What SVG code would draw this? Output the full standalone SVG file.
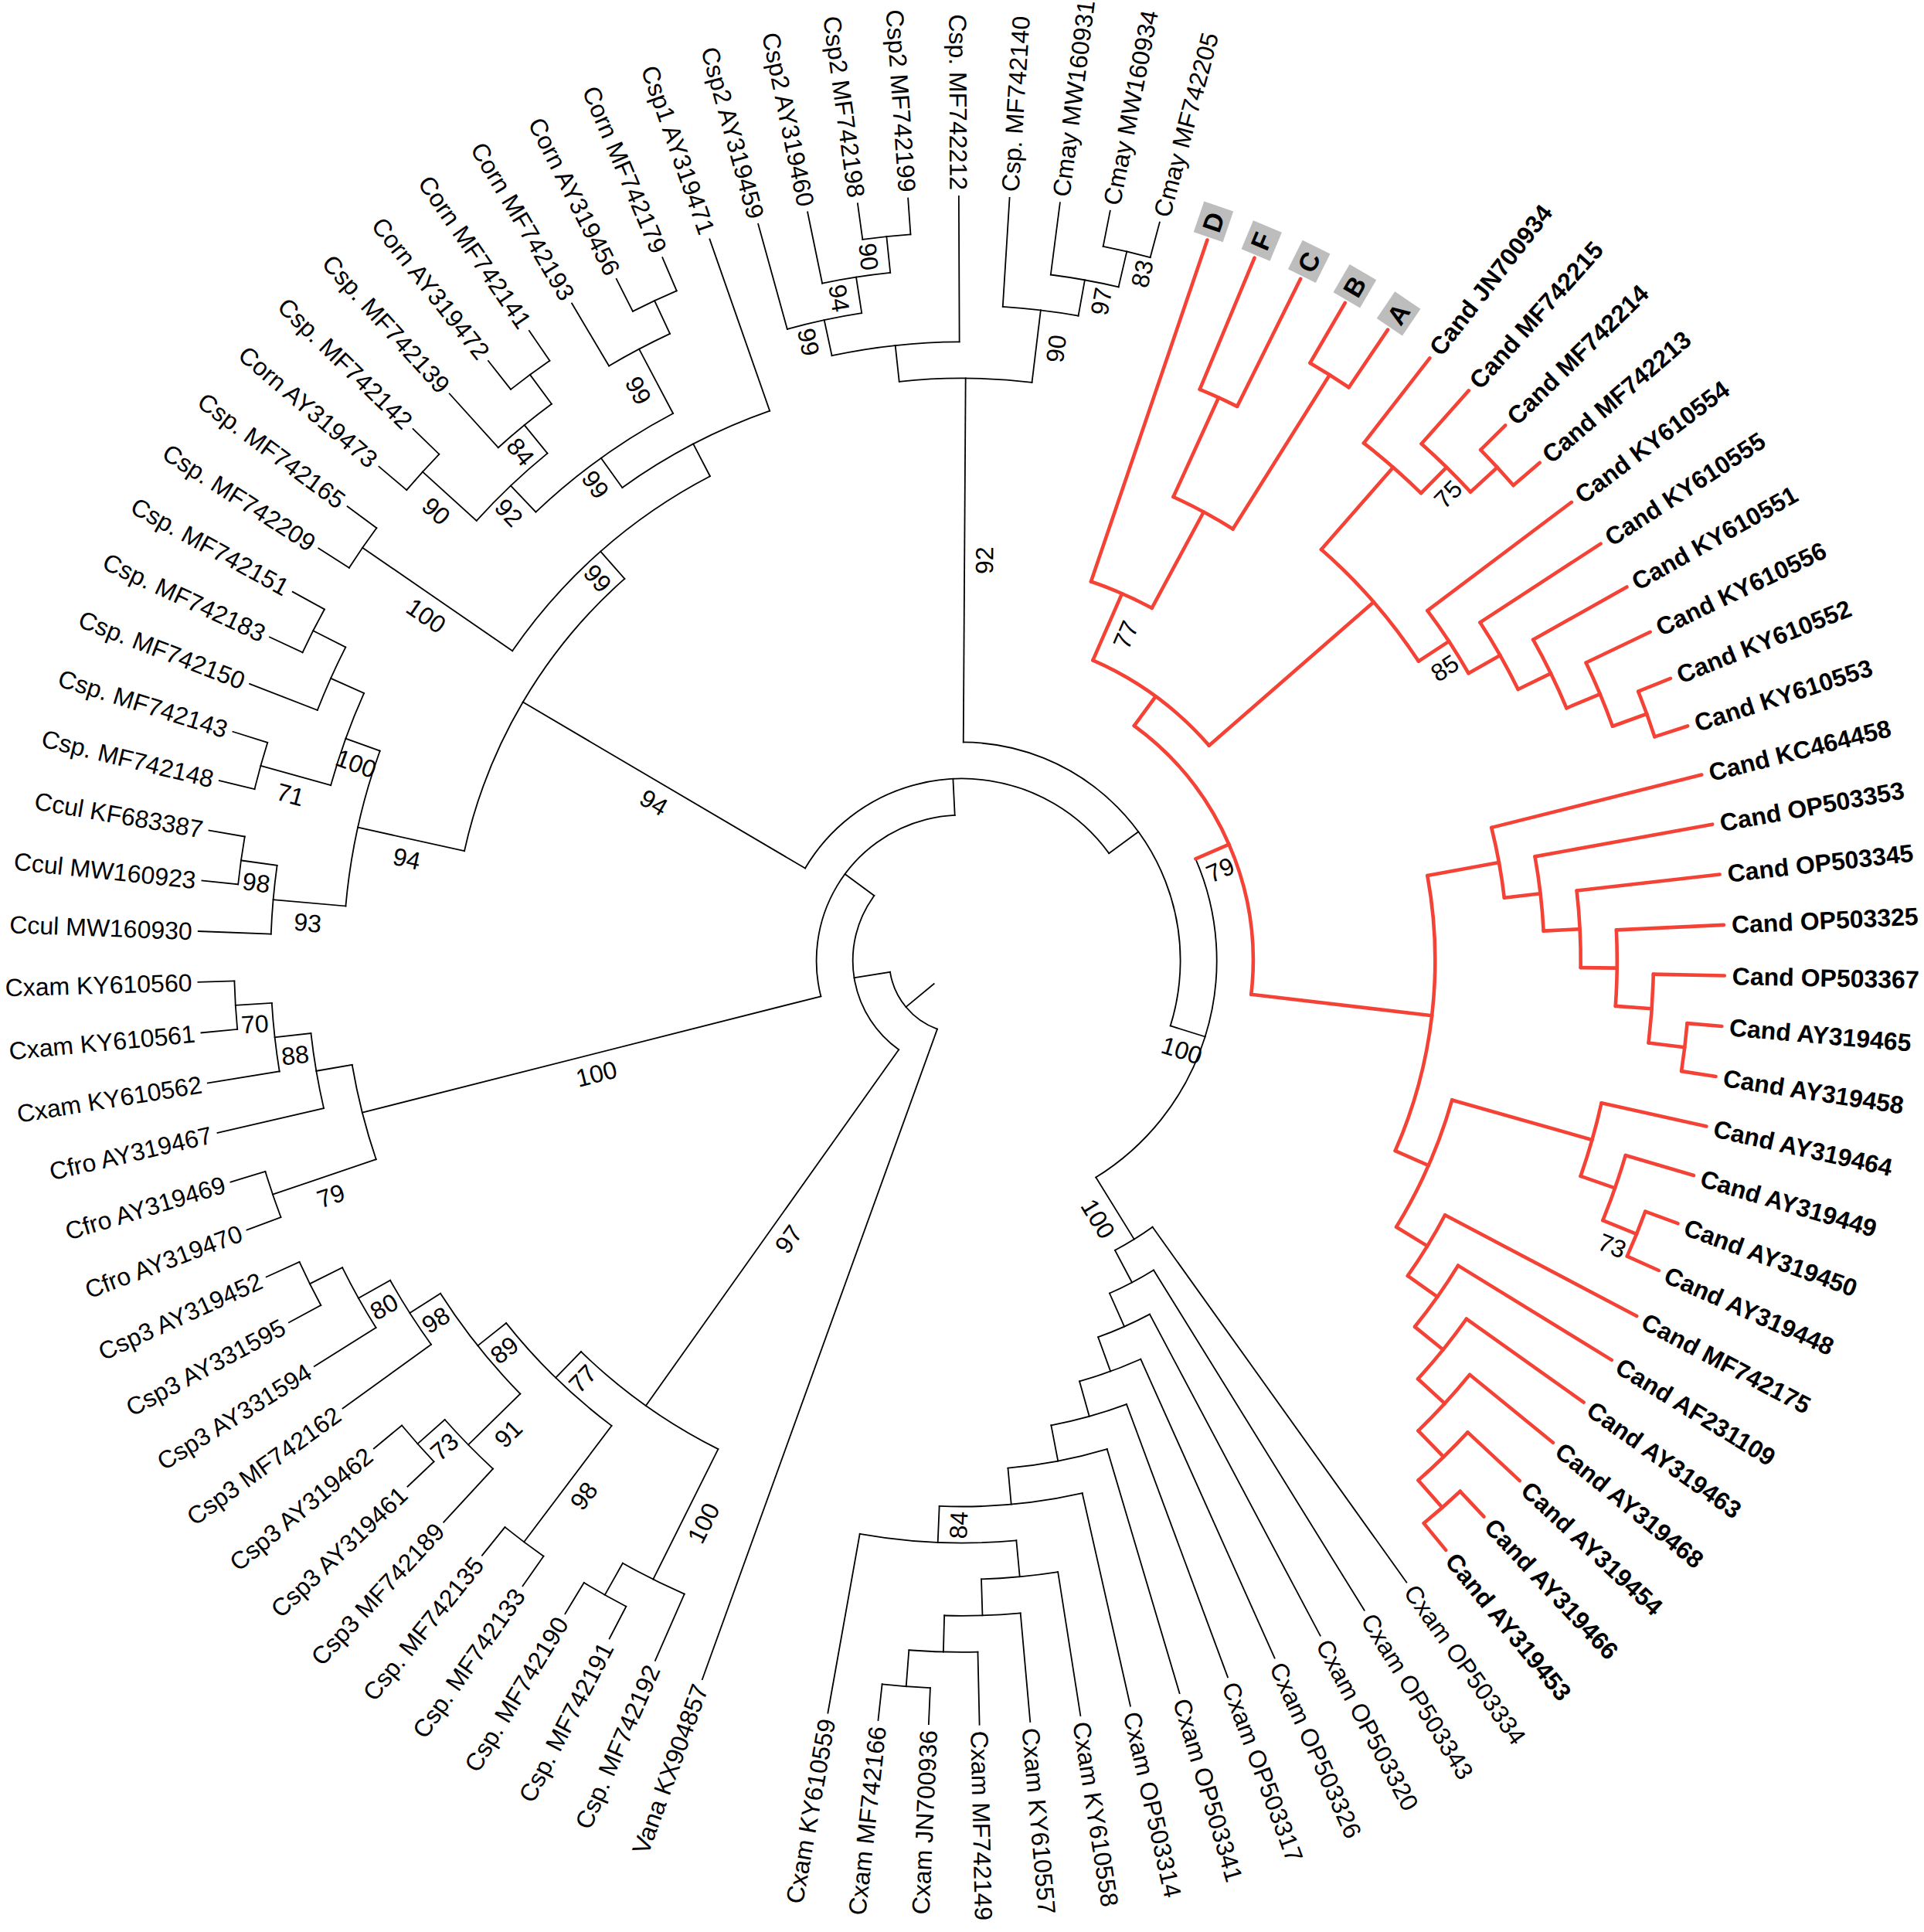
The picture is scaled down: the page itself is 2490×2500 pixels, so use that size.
<svg xmlns="http://www.w3.org/2000/svg" width="2490" height="2500" viewBox="0 0 2490 2500">
<style>
.k{fill:none;stroke:#000;stroke-width:1.8;stroke-linecap:square}
.r{fill:none;stroke:#F44336;stroke-width:4.6;stroke-linecap:round;stroke-linejoin:round}
text{font-family:"Liberation Sans",Arial,sans-serif;font-size:32px;fill:#000}
.e{text-anchor:end}
.m{text-anchor:middle}
.bd{font-weight:bold}
.lt{font-weight:bold;font-size:34px}
.gb{fill:#BDBDBD}
</style>
<rect width="2490" height="2500" fill="#fff"/>
<g transform="translate(1245,1243)">
<g id="connectors">
<!-- black arcs -->
<circle class="k" r="942" pathLength="360" stroke-dasharray="3.81 400" transform="rotate(-78.82)"/>
<circle class="k" r="894.9" pathLength="360" stroke-dasharray="5.715 400" transform="rotate(-82.63)"/>
<circle class="k" r="847.8" pathLength="360" stroke-dasharray="6.66 400" transform="rotate(-86.43)"/>
<circle class="k" r="942" pathLength="360" stroke-dasharray="3.8 400" transform="rotate(-97.85)"/>
<circle class="k" r="894.9" pathLength="360" stroke-dasharray="5.71 400" transform="rotate(-101.66)"/>
<circle class="k" r="847.8" pathLength="360" stroke-dasharray="6.665 400" transform="rotate(-105.47)"/>
<circle class="k" r="800.7" pathLength="360" stroke-dasharray="11.9 400" transform="rotate(-102.14)"/>
<circle class="k" r="753.6" pathLength="360" stroke-dasharray="13.09 400" transform="rotate(-96.19)"/>
<circle class="k" r="942" pathLength="360" stroke-dasharray="3.81 400" transform="rotate(-154.96)"/>
<circle class="k" r="894.9" pathLength="360" stroke-dasharray="5.715 400" transform="rotate(-158.77)"/>
<circle class="k" r="942" pathLength="360" stroke-dasharray="3.81 400" transform="rotate(-166.38)"/>
<circle class="k" r="847.8" pathLength="360" stroke-dasharray="8.565 400" transform="rotate(-164.475)"/>
<circle class="k" r="942" pathLength="360" stroke-dasharray="3.8 400" transform="rotate(-173.99)"/>
<circle class="k" r="894.9" pathLength="360" stroke-dasharray="5.71 400" transform="rotate(-177.8)"/>
<circle class="k" r="800.7" pathLength="360" stroke-dasharray="14.755 400" transform="rotate(-174.945)"/>
<circle class="k" r="942" pathLength="360" stroke-dasharray="3.81 400" transform="rotate(-147.35)"/>
<circle class="k" r="942" pathLength="360" stroke-dasharray="3.81 400" transform="rotate(-139.73)"/>
<circle class="k" r="942" pathLength="360" stroke-dasharray="3.81 400" transform="rotate(-128.31)"/>
<circle class="k" r="894.9" pathLength="360" stroke-dasharray="5.715 400" transform="rotate(-132.12)"/>
<circle class="k" r="847.8" pathLength="360" stroke-dasharray="8.565 400" transform="rotate(-137.825)"/>
<circle class="k" r="942" pathLength="360" stroke-dasharray="3.81 400" transform="rotate(-116.89)"/>
<circle class="k" r="894.9" pathLength="360" stroke-dasharray="5.715 400" transform="rotate(-120.7)"/>
<circle class="k" r="800.7" pathLength="360" stroke-dasharray="15.7 400" transform="rotate(-133.54)"/>
<circle class="k" r="753.6" pathLength="360" stroke-dasharray="16.41 400" transform="rotate(-125.69)"/>
<circle class="k" r="706.5" pathLength="360" stroke-dasharray="27.96 400" transform="rotate(-145.445)"/>
<circle class="k" r="659.4" pathLength="360" stroke-dasharray="36.105 400" transform="rotate(-167.57)"/>
<circle class="k" r="942" pathLength="360" stroke-dasharray="3.81 400" transform="rotate(-185.42)"/>
<circle class="k" r="894.9" pathLength="360" stroke-dasharray="5.705 400" transform="rotate(-189.22)"/>
<circle class="k" r="847.8" pathLength="360" stroke-dasharray="6.66 400" transform="rotate(-193.03)"/>
<circle class="k" r="942" pathLength="360" stroke-dasharray="3.8 400" transform="rotate(-200.64)"/>
<circle class="k" r="800.7" pathLength="360" stroke-dasharray="9.04 400" transform="rotate(-198.74)"/>
<circle class="k" r="942" pathLength="360" stroke-dasharray="3.81 400" transform="rotate(-208.26)"/>
<circle class="k" r="894.9" pathLength="360" stroke-dasharray="5.705 400" transform="rotate(-212.06)"/>
<circle class="k" r="847.8" pathLength="360" stroke-dasharray="6.66 400" transform="rotate(-215.87)"/>
<circle class="k" r="942" pathLength="360" stroke-dasharray="3.81 400" transform="rotate(-223.49)"/>
<circle class="k" r="894.9" pathLength="360" stroke-dasharray="5.705 400" transform="rotate(-227.29)"/>
<circle class="k" r="800.7" pathLength="360" stroke-dasharray="11.9 400" transform="rotate(-224.44)"/>
<circle class="k" r="942" pathLength="360" stroke-dasharray="3.81 400" transform="rotate(-234.91)"/>
<circle class="k" r="753.6" pathLength="360" stroke-dasharray="14.515 400" transform="rotate(-233.005)"/>
<circle class="k" r="942" pathLength="360" stroke-dasharray="3.81 400" transform="rotate(-242.52)"/>
<circle class="k" r="894.9" pathLength="360" stroke-dasharray="5.715 400" transform="rotate(-246.33)"/>
<circle class="k" r="706.5" pathLength="360" stroke-dasharray="17.72 400" transform="rotate(-243.47)"/>
<circle class="k" r="141.3" pathLength="360" stroke-dasharray="91.09 400" transform="rotate(-234.61)"/>
<circle class="k" r="188.4" pathLength="360" stroke-dasharray="101.395 400" transform="rotate(-194.22)"/>
<circle class="k" r="235.5" pathLength="360" stroke-dasharray="113.39 400" transform="rotate(-149.52)"/>
<circle class="k" r="282.6" pathLength="360" stroke-dasharray="107.025 400" transform="rotate(-89.645)"/>
<circle class="k" r="329.7" pathLength="360" stroke-dasharray="81.825 400" transform="rotate(-23.535)"/>
<circle class="k" r="94.2" pathLength="360" stroke-dasharray="61.065 400" transform="rotate(-250.13)"/>
<circle class="k" r="942" pathLength="360" stroke-dasharray="3.8 400" transform="rotate(92.5)"/>
<circle class="k" r="894.9" pathLength="360" stroke-dasharray="5.71 400" transform="rotate(88.69)"/>
<circle class="k" r="847.8" pathLength="360" stroke-dasharray="6.665 400" transform="rotate(84.88)"/>
<circle class="k" r="800.7" pathLength="360" stroke-dasharray="7.13 400" transform="rotate(81.08)"/>
<circle class="k" r="753.6" pathLength="360" stroke-dasharray="15.465 400" transform="rotate(84.645)"/>
<circle class="k" r="706.5" pathLength="360" stroke-dasharray="15.11 400" transform="rotate(77.27)"/>
<circle class="k" r="659.4" pathLength="360" stroke-dasharray="11.365 400" transform="rotate(73.46)"/>
<circle class="k" r="612.3" pathLength="360" stroke-dasharray="9.49 400" transform="rotate(69.65)"/>
<circle class="k" r="565.2" pathLength="360" stroke-dasharray="8.545 400" transform="rotate(65.85)"/>
<circle class="k" r="518.1" pathLength="360" stroke-dasharray="8.08 400" transform="rotate(62.04)"/>
<circle class="k" r="471" pathLength="360" stroke-dasharray="7.85 400" transform="rotate(58.23)"/>
<circle class="k" r="423.9" pathLength="360" stroke-dasharray="7.725 400" transform="rotate(54.43)"/>
<!-- red arcs -->
<circle class="r" r="942" pathLength="360" stroke-dasharray="3.81 400" transform="rotate(-44.56)"/>
<circle class="r" r="894.9" pathLength="360" stroke-dasharray="5.705 400" transform="rotate(-48.36)"/>
<circle class="r" r="847.8" pathLength="360" stroke-dasharray="6.66 400" transform="rotate(-52.17)"/>
<circle class="r" r="942" pathLength="360" stroke-dasharray="3.8 400" transform="rotate(-21.71)"/>
<circle class="r" r="894.9" pathLength="360" stroke-dasharray="5.71 400" transform="rotate(-25.52)"/>
<circle class="r" r="847.8" pathLength="360" stroke-dasharray="6.665 400" transform="rotate(-29.33)"/>
<circle class="r" r="800.7" pathLength="360" stroke-dasharray="7.13 400" transform="rotate(-33.13)"/>
<circle class="r" r="753.6" pathLength="360" stroke-dasharray="7.375 400" transform="rotate(-36.94)"/>
<circle class="r" r="706.5" pathLength="360" stroke-dasharray="15.59 400" transform="rotate(-48.84)"/>
<circle class="r" r="894.9" pathLength="360" stroke-dasharray="3.8 400" transform="rotate(-59.78)"/>
<circle class="r" r="800.7" pathLength="360" stroke-dasharray="3.81 400" transform="rotate(-67.4)"/>
<circle class="r" r="659.4" pathLength="360" stroke-dasharray="7.615 400" transform="rotate(-65.495)"/>
<circle class="r" r="518.1" pathLength="360" stroke-dasharray="9.51 400" transform="rotate(-71.2)"/>
<circle class="r" r="423.9" pathLength="360" stroke-dasharray="25.4 400" transform="rotate(-66.445)"/>
<circle class="r" r="942" pathLength="360" stroke-dasharray="3.8 400" transform="rotate(4.94)"/>
<circle class="r" r="894.9" pathLength="360" stroke-dasharray="5.71 400" transform="rotate(1.13)"/>
<circle class="r" r="847.8" pathLength="360" stroke-dasharray="6.665 400" transform="rotate(-2.68)"/>
<circle class="r" r="800.7" pathLength="360" stroke-dasharray="7.14 400" transform="rotate(-6.49)"/>
<circle class="r" r="753.6" pathLength="360" stroke-dasharray="7.37 400" transform="rotate(-10.29)"/>
<circle class="r" r="706.5" pathLength="360" stroke-dasharray="7.495 400" transform="rotate(-14.1)"/>
<circle class="r" r="942" pathLength="360" stroke-dasharray="3.81 400" transform="rotate(20.16)"/>
<circle class="r" r="894.9" pathLength="360" stroke-dasharray="5.705 400" transform="rotate(16.36)"/>
<circle class="r" r="847.8" pathLength="360" stroke-dasharray="6.66 400" transform="rotate(12.55)"/>
<circle class="r" r="942" pathLength="360" stroke-dasharray="3.81 400" transform="rotate(46.81)"/>
<circle class="r" r="894.9" pathLength="360" stroke-dasharray="5.715 400" transform="rotate(43)"/>
<circle class="r" r="847.8" pathLength="360" stroke-dasharray="6.66 400" transform="rotate(39.2)"/>
<circle class="r" r="800.7" pathLength="360" stroke-dasharray="7.14 400" transform="rotate(35.39)"/>
<circle class="r" r="753.6" pathLength="360" stroke-dasharray="7.38 400" transform="rotate(31.58)"/>
<circle class="r" r="706.5" pathLength="360" stroke-dasharray="7.49 400" transform="rotate(27.78)"/>
<circle class="r" r="659.4" pathLength="360" stroke-dasharray="15.645 400" transform="rotate(15.88)"/>
<circle class="r" r="612.3" pathLength="360" stroke-dasharray="34.05 400" transform="rotate(-10.35)"/>
<circle class="r" r="376.8" pathLength="360" stroke-dasharray="60.42 400" transform="rotate(-53.745)"/>
<!-- black internal radials -->
<line class="k" y1="-894.9" y2="-942" transform="rotate(13.085)"/>
<line class="k" y1="-847.8" y2="-894.9" transform="rotate(10.23)"/>
<line class="k" y1="-753.6" y2="-847.8" transform="rotate(6.9)"/>
<line class="k" y1="-894.9" y2="-942" transform="rotate(-5.95)"/>
<line class="k" y1="-847.8" y2="-894.9" transform="rotate(-8.805)"/>
<line class="k" y1="-800.7" y2="-847.8" transform="rotate(-12.14)"/>
<line class="k" y1="-753.6" y2="-800.7" transform="rotate(-6.19)"/>
<line class="k" y1="-282.6" y2="-753.6" transform="rotate(0.355)"/>
<line class="k" y1="-894.9" y2="-942" transform="rotate(-63.055)"/>
<line class="k" y1="-847.8" y2="-894.9" transform="rotate(-65.91)"/>
<line class="k" y1="-847.8" y2="-942" transform="rotate(-74.475)"/>
<line class="k" y1="-800.7" y2="-847.8" transform="rotate(-70.19)"/>
<line class="k" y1="-894.9" y2="-942" transform="rotate(-82.09)"/>
<line class="k" y1="-800.7" y2="-894.9" transform="rotate(-84.945)"/>
<line class="k" y1="-659.4" y2="-800.7" transform="rotate(-77.57)"/>
<line class="k" y1="-706.5" y2="-942" transform="rotate(-55.445)"/>
<line class="k" y1="-847.8" y2="-942" transform="rotate(-47.825)"/>
<line class="k" y1="-894.9" y2="-942" transform="rotate(-36.405)"/>
<line class="k" y1="-847.8" y2="-894.9" transform="rotate(-39.26)"/>
<line class="k" y1="-800.7" y2="-847.8" transform="rotate(-43.54)"/>
<line class="k" y1="-894.9" y2="-942" transform="rotate(-24.985)"/>
<line class="k" y1="-800.7" y2="-894.9" transform="rotate(-27.84)"/>
<line class="k" y1="-753.6" y2="-800.7" transform="rotate(-35.69)"/>
<line class="k" y1="-706.5" y2="-753.6" transform="rotate(-27.485)"/>
<line class="k" y1="-659.4" y2="-706.5" transform="rotate(-41.465)"/>
<line class="k" y1="-235.5" y2="-659.4" transform="rotate(-59.52)"/>
<line class="k" y1="-894.9" y2="-942" transform="rotate(-93.515)"/>
<line class="k" y1="-847.8" y2="-894.9" transform="rotate(-96.37)"/>
<line class="k" y1="-800.7" y2="-847.8" transform="rotate(-99.7)"/>
<line class="k" y1="-800.7" y2="-942" transform="rotate(-108.74)"/>
<line class="k" y1="-188.4" y2="-800.7" transform="rotate(-104.22)"/>
<line class="k" y1="-894.9" y2="-942" transform="rotate(-116.355)"/>
<line class="k" y1="-847.8" y2="-894.9" transform="rotate(-119.21)"/>
<line class="k" y1="-800.7" y2="-847.8" transform="rotate(-122.54)"/>
<line class="k" y1="-894.9" y2="-942" transform="rotate(-131.585)"/>
<line class="k" y1="-800.7" y2="-894.9" transform="rotate(-134.44)"/>
<line class="k" y1="-753.6" y2="-800.7" transform="rotate(-128.49)"/>
<line class="k" y1="-753.6" y2="-942" transform="rotate(-143.005)"/>
<line class="k" y1="-706.5" y2="-753.6" transform="rotate(-135.75)"/>
<line class="k" y1="-894.9" y2="-942" transform="rotate(-150.615)"/>
<line class="k" y1="-706.5" y2="-894.9" transform="rotate(-153.47)"/>
<line class="k" y1="-141.3" y2="-706.5" transform="rotate(-144.61)"/>
<line class="k" y1="-94.2" y2="-141.3" transform="rotate(-99.065)"/>
<line class="k" y1="-141.3" y2="-188.4" transform="rotate(-53.52)"/>
<line class="k" y1="-188.4" y2="-235.5" transform="rotate(-2.825)"/>
<line class="k" y1="-235.5" y2="-282.6" transform="rotate(53.87)"/>
<line class="k" y1="-282.6" y2="-329.7" transform="rotate(107.38)"/>
<line class="k" y1="-47.1" y2="-94.2" transform="rotate(-129.6)"/>
<line class="k" y1="-894.9" y2="-942" transform="rotate(184.4)"/>
<line class="k" y1="-847.8" y2="-894.9" transform="rotate(181.545)"/>
<line class="k" y1="-800.7" y2="-847.8" transform="rotate(178.21)"/>
<line class="k" y1="-753.6" y2="-800.7" transform="rotate(174.645)"/>
<line class="k" y1="-706.5" y2="-753.6" transform="rotate(182.38)"/>
<line class="k" y1="-659.4" y2="-706.5" transform="rotate(174.825)"/>
<line class="k" y1="-612.3" y2="-659.4" transform="rotate(169.14)"/>
<line class="k" y1="-565.2" y2="-612.3" transform="rotate(164.395)"/>
<line class="k" y1="-518.1" y2="-565.2" transform="rotate(160.12)"/>
<line class="k" y1="-471" y2="-518.1" transform="rotate(156.08)"/>
<line class="k" y1="-423.9" y2="-471" transform="rotate(152.155)"/>
<line class="k" y1="-329.7" y2="-423.9" transform="rotate(148.29)"/>
<!-- red internal radials -->
<line class="r" y1="-894.9" y2="-942" transform="rotate(47.345)"/>
<line class="r" y1="-847.8" y2="-894.9" transform="rotate(44.49)"/>
<line class="r" y1="-706.5" y2="-847.8" transform="rotate(41.16)"/>
<line class="r" y1="-894.9" y2="-942" transform="rotate(70.19)"/>
<line class="r" y1="-847.8" y2="-894.9" transform="rotate(67.335)"/>
<line class="r" y1="-800.7" y2="-847.8" transform="rotate(64)"/>
<line class="r" y1="-753.6" y2="-800.7" transform="rotate(60.435)"/>
<line class="r" y1="-706.5" y2="-753.6" transform="rotate(56.75)"/>
<line class="r" y1="-423.9" y2="-706.5" transform="rotate(48.955)"/>
<line class="r" y1="-659.4" y2="-894.9" transform="rotate(32.12)"/>
<line class="r" y1="-659.4" y2="-800.7" transform="rotate(24.505)"/>
<line class="r" y1="-518.1" y2="-659.4" transform="rotate(28.31)"/>
<line class="r" y1="-423.9" y2="-518.1" transform="rotate(23.555)"/>
<line class="r" y1="-376.8" y2="-423.9" transform="rotate(36.255)"/>
<line class="r" y1="-894.9" y2="-942" transform="rotate(96.84)"/>
<line class="r" y1="-847.8" y2="-894.9" transform="rotate(93.985)"/>
<line class="r" y1="-800.7" y2="-847.8" transform="rotate(90.65)"/>
<line class="r" y1="-753.6" y2="-800.7" transform="rotate(87.08)"/>
<line class="r" y1="-706.5" y2="-753.6" transform="rotate(83.395)"/>
<line class="r" y1="-612.3" y2="-706.5" transform="rotate(79.65)"/>
<line class="r" y1="-894.9" y2="-942" transform="rotate(112.065)"/>
<line class="r" y1="-847.8" y2="-894.9" transform="rotate(109.21)"/>
<line class="r" y1="-659.4" y2="-847.8" transform="rotate(105.88)"/>
<line class="r" y1="-894.9" y2="-942" transform="rotate(138.715)"/>
<line class="r" y1="-847.8" y2="-894.9" transform="rotate(135.86)"/>
<line class="r" y1="-800.7" y2="-847.8" transform="rotate(132.53)"/>
<line class="r" y1="-753.6" y2="-800.7" transform="rotate(128.96)"/>
<line class="r" y1="-706.5" y2="-753.6" transform="rotate(125.27)"/>
<line class="r" y1="-659.4" y2="-706.5" transform="rotate(121.525)"/>
<line class="r" y1="-612.3" y2="-659.4" transform="rotate(113.7)"/>
<line class="r" y1="-376.8" y2="-612.3" transform="rotate(96.675)"/>
<line class="r" y1="-329.7" y2="-376.8" transform="rotate(66.465)"/>
<!-- red tip branches -->
<line class="r" y1="-518.1" y2="-985" transform="rotate(18.8)"/>
<line class="r" y1="-800.7" y2="-985" transform="rotate(22.6)"/>
<line class="r" y1="-800.7" y2="-985" transform="rotate(26.41)"/>
<line class="r" y1="-894.9" y2="-985" transform="rotate(30.22)"/>
<line class="r" y1="-894.9" y2="-985" transform="rotate(34.02)"/>
<line class="r" y1="-847.8" y2="-987" transform="rotate(37.83)"/>
<line class="r" y1="-894.9" y2="-987" transform="rotate(41.64)"/>
<line class="r" y1="-942" y2="-987" transform="rotate(45.44)"/>
<line class="r" y1="-942" y2="-987" transform="rotate(49.25)"/>
<line class="r" y1="-753.6" y2="-987" transform="rotate(53.06)"/>
<line class="r" y1="-800.7" y2="-987" transform="rotate(56.87)"/>
<line class="r" y1="-847.8" y2="-987" transform="rotate(60.67)"/>
<line class="r" y1="-894.9" y2="-987" transform="rotate(64.48)"/>
<line class="r" y1="-942" y2="-987" transform="rotate(68.29)"/>
<line class="r" y1="-942" y2="-987" transform="rotate(72.09)"/>
<line class="r" y1="-706.5" y2="-987" transform="rotate(75.9)"/>
<line class="r" y1="-753.6" y2="-987" transform="rotate(79.71)"/>
<line class="r" y1="-800.7" y2="-987" transform="rotate(83.51)"/>
<line class="r" y1="-847.8" y2="-987" transform="rotate(87.32)"/>
<line class="r" y1="-894.9" y2="-987" transform="rotate(91.13)"/>
<line class="r" y1="-942" y2="-987" transform="rotate(94.94)"/>
<line class="r" y1="-942" y2="-987" transform="rotate(98.74)"/>
<line class="r" y1="-847.8" y2="-987" transform="rotate(102.55)"/>
<line class="r" y1="-894.9" y2="-987" transform="rotate(106.36)"/>
<line class="r" y1="-942" y2="-987" transform="rotate(110.16)"/>
<line class="r" y1="-942" y2="-987" transform="rotate(113.97)"/>
<line class="r" y1="-706.5" y2="-987" transform="rotate(117.78)"/>
<line class="r" y1="-753.6" y2="-987" transform="rotate(121.58)"/>
<line class="r" y1="-800.7" y2="-987" transform="rotate(125.39)"/>
<line class="r" y1="-847.8" y2="-987" transform="rotate(129.2)"/>
<line class="r" y1="-894.9" y2="-987" transform="rotate(133)"/>
<line class="r" y1="-942" y2="-987" transform="rotate(136.81)"/>
<line class="r" y1="-942" y2="-987" transform="rotate(140.62)"/>
<!-- black tip branches -->
<line class="k" y1="-423.9" y2="-989" transform="rotate(144.43)"/>
<line class="k" y1="-471" y2="-989" transform="rotate(148.23)"/>
<line class="k" y1="-518.1" y2="-989" transform="rotate(152.04)"/>
<line class="k" y1="-565.2" y2="-989" transform="rotate(155.85)"/>
<line class="k" y1="-612.3" y2="-989" transform="rotate(159.65)"/>
<line class="k" y1="-659.4" y2="-989" transform="rotate(163.46)"/>
<line class="k" y1="-706.5" y2="-989" transform="rotate(167.27)"/>
<line class="k" y1="-800.7" y2="-989" transform="rotate(171.08)"/>
<line class="k" y1="-847.8" y2="-989" transform="rotate(174.88)"/>
<line class="k" y1="-894.9" y2="-989" transform="rotate(178.69)"/>
<line class="k" y1="-942" y2="-989" transform="rotate(182.5)"/>
<line class="k" y1="-942" y2="-989" transform="rotate(186.3)"/>
<line class="k" y1="-753.6" y2="-989" transform="rotate(190.11)"/>
<line class="k" y1="-94.2" y2="-989" transform="rotate(-160.13)"/>
<line class="k" y1="-894.9" y2="-989" transform="rotate(-156.33)"/>
<line class="k" y1="-942" y2="-989" transform="rotate(-152.52)"/>
<line class="k" y1="-942" y2="-989" transform="rotate(-148.71)"/>
<line class="k" y1="-942" y2="-989" transform="rotate(-144.91)"/>
<line class="k" y1="-942" y2="-989" transform="rotate(-141.1)"/>
<line class="k" y1="-894.9" y2="-989" transform="rotate(-137.29)"/>
<line class="k" y1="-942" y2="-989" transform="rotate(-133.49)"/>
<line class="k" y1="-942" y2="-989" transform="rotate(-129.68)"/>
<line class="k" y1="-847.8" y2="-989" transform="rotate(-125.87)"/>
<line class="k" y1="-894.9" y2="-989" transform="rotate(-122.06)"/>
<line class="k" y1="-942" y2="-989" transform="rotate(-118.26)"/>
<line class="k" y1="-942" y2="-989" transform="rotate(-114.45)"/>
<line class="k" y1="-942" y2="-989" transform="rotate(-110.64)"/>
<line class="k" y1="-942" y2="-989" transform="rotate(-106.84)"/>
<line class="k" y1="-847.8" y2="-989" transform="rotate(-103.03)"/>
<line class="k" y1="-894.9" y2="-989" transform="rotate(-99.22)"/>
<line class="k" y1="-942" y2="-989" transform="rotate(-95.42)"/>
<line class="k" y1="-942" y2="-989" transform="rotate(-91.61)"/>
<line class="k" y1="-894.9" y2="-989" transform="rotate(-87.8)"/>
<line class="k" y1="-942" y2="-989" transform="rotate(-83.99)"/>
<line class="k" y1="-942" y2="-989" transform="rotate(-80.19)"/>
<line class="k" y1="-942" y2="-989" transform="rotate(-76.38)"/>
<line class="k" y1="-942" y2="-989" transform="rotate(-72.57)"/>
<line class="k" y1="-894.9" y2="-989" transform="rotate(-68.77)"/>
<line class="k" y1="-942" y2="-989" transform="rotate(-64.96)"/>
<line class="k" y1="-942" y2="-989" transform="rotate(-61.15)"/>
<line class="k" y1="-942" y2="-989" transform="rotate(-57.35)"/>
<line class="k" y1="-942" y2="-989" transform="rotate(-53.54)"/>
<line class="k" y1="-942" y2="-989" transform="rotate(-49.73)"/>
<line class="k" y1="-942" y2="-989" transform="rotate(-45.92)"/>
<line class="k" y1="-894.9" y2="-989" transform="rotate(-42.12)"/>
<line class="k" y1="-942" y2="-989" transform="rotate(-38.31)"/>
<line class="k" y1="-942" y2="-989" transform="rotate(-34.5)"/>
<line class="k" y1="-894.9" y2="-989" transform="rotate(-30.7)"/>
<line class="k" y1="-942" y2="-989" transform="rotate(-26.89)"/>
<line class="k" y1="-942" y2="-989" transform="rotate(-23.08)"/>
<line class="k" y1="-753.6" y2="-989" transform="rotate(-19.28)"/>
<line class="k" y1="-847.8" y2="-989" transform="rotate(-15.47)"/>
<line class="k" y1="-894.9" y2="-989" transform="rotate(-11.66)"/>
<line class="k" y1="-942" y2="-989" transform="rotate(-7.85)"/>
<line class="k" y1="-942" y2="-989" transform="rotate(-4.05)"/>
<line class="k" y1="-800.7" y2="-989" transform="rotate(-0.24)"/>
<line class="k" y1="-847.8" y2="-989" transform="rotate(3.57)"/>
<line class="k" y1="-894.9" y2="-989" transform="rotate(7.37)"/>
<line class="k" y1="-942" y2="-989" transform="rotate(11.18)"/>
<line class="k" y1="-942" y2="-989" transform="rotate(14.99)"/>
</g>
<g id="support-values">
<text class="m" transform="rotate(-76.915) translate(918.45,37)">83</text>
<text class="m" transform="rotate(-79.77) translate(871.35,37)">97</text>
<text class="m" transform="rotate(-83.1) translate(800.7,37)">90</text>
<text class="m" transform="rotate(-89.645) translate(518.1,37)">92</text>
<text class="m" transform="rotate(58.29) translate(376.8,37)">100</text>
<text class="m" transform="rotate(17.38) translate(306.15,37)">100</text>
<text class="m" transform="rotate(-23.535) translate(353.25,37)">79</text>
<text class="m" transform="rotate(-66.445) translate(471,37)">77</text>
<text class="m" transform="rotate(-45.51) translate(871.35,37)">75</text>
<text class="m" transform="rotate(-33.25) translate(730.05,37)">85</text>
<text class="m" transform="rotate(22.065) translate(918.45,37)">73</text>
<text class="m" transform="rotate(84.05) translate(-918.45,37)">90</text>
<text class="m" transform="rotate(81.195) translate(-871.35,37)">94</text>
<text class="m" transform="rotate(77.86) translate(-824.25,37)">99</text>
<text class="m" transform="rotate(15.525) translate(-894.9,37)">71</text>
<text class="m" transform="rotate(19.81) translate(-824.25,37)">100</text>
<text class="m" transform="rotate(7.91) translate(-918.45,37)">98</text>
<text class="m" transform="rotate(5.055) translate(-847.8,37)">93</text>
<text class="m" transform="rotate(12.43) translate(-730.05,37)">94</text>
<text class="m" transform="rotate(34.555) translate(-824.25,37)">100</text>
<text class="m" transform="rotate(42.175) translate(-894.9,37)">90</text>
<text class="m" transform="rotate(50.74) translate(-871.35,37)">84</text>
<text class="m" transform="rotate(46.46) translate(-824.25,37)">92</text>
<text class="m" transform="rotate(62.16) translate(-847.8,37)">99</text>
<text class="m" transform="rotate(54.31) translate(-777.15,37)">99</text>
<text class="m" transform="rotate(48.535) translate(-682.95,37)">99</text>
<text class="m" transform="rotate(30.48) translate(-447.45,37)">94</text>
<text class="m" transform="rotate(-3.515) translate(-918.45,37)">70</text>
<text class="m" transform="rotate(-6.37) translate(-871.35,37)">88</text>
<text class="m" transform="rotate(-18.74) translate(-871.35,37)">79</text>
<text class="m" transform="rotate(-14.22) translate(-494.55,37)">100</text>
<text class="m" transform="rotate(-29.21) translate(-871.35,37)">80</text>
<text class="m" transform="rotate(-32.54) translate(-824.25,37)">98</text>
<text class="m" transform="rotate(-41.585) translate(-918.45,37)">73</text>
<text class="m" transform="rotate(-44.44) translate(-847.8,37)">91</text>
<text class="m" transform="rotate(-38.49) translate(-777.15,37)">89</text>
<text class="m" transform="rotate(-53.005) translate(-847.8,37)">98</text>
<text class="m" transform="rotate(-45.75) translate(-730.05,37)">77</text>
<text class="m" transform="rotate(-63.47) translate(-800.7,37)">100</text>
<text class="m" transform="rotate(-54.61) translate(-423.9,37)">97</text>
<text class="m" transform="rotate(272.38) translate(-730.05,37)">84</text>
</g>
<g id="tips">
<g id="tip-D" transform="rotate(-71.2)"><rect class="gb" x="989" y="-20" width="42" height="40"/><text class="lt" x="997" y="12">D</text></g>
<g id="tip-F" transform="rotate(-67.4)"><rect class="gb" x="989" y="-20" width="40" height="40"/><text class="lt" x="998" y="12">F</text></g>
<g id="tip-C" transform="rotate(-63.59)"><rect class="gb" x="989" y="-20" width="42" height="40"/><text class="lt" x="997" y="12">C</text></g>
<g id="tip-B" transform="rotate(-59.78)"><rect class="gb" x="989" y="-20" width="42" height="40"/><text class="lt" x="997" y="12">B</text></g>
<g id="tip-A" transform="rotate(-55.98)"><rect class="gb" x="989" y="-20" width="42" height="40"/><text class="lt" x="997" y="12">A</text></g>
<g id="tip-JN700934"><text class="bd" transform="rotate(-52.17) translate(997,11.5)">Cand JN700934</text></g>
<g id="tip-MF742215"><text class="bd" transform="rotate(-48.36) translate(997,11.5)">Cand MF742215</text></g>
<g id="tip-MF742214"><text class="bd" transform="rotate(-44.56) translate(997,11.5)">Cand MF742214</text></g>
<g id="tip-MF742213"><text class="bd" transform="rotate(-40.75) translate(997,11.5)">Cand MF742213</text></g>
<g id="tip-KY610554"><text class="bd" transform="rotate(-36.94) translate(997,11.5)">Cand KY610554</text></g>
<g id="tip-KY610555"><text class="bd" transform="rotate(-33.13) translate(997,11.5)">Cand KY610555</text></g>
<g id="tip-KY610551"><text class="bd" transform="rotate(-29.33) translate(997,11.5)">Cand KY610551</text></g>
<g id="tip-KY610556"><text class="bd" transform="rotate(-25.52) translate(997,11.5)">Cand KY610556</text></g>
<g id="tip-KY610552"><text class="bd" transform="rotate(-21.71) translate(997,11.5)">Cand KY610552</text></g>
<g id="tip-KY610553"><text class="bd" transform="rotate(-17.91) translate(997,11.5)">Cand KY610553</text></g>
<g id="tip-KC464458"><text class="bd" transform="rotate(-14.1) translate(997,11.5)">Cand KC464458</text></g>
<g id="tip-OP503353"><text class="bd" transform="rotate(-10.29) translate(997,11.5)">Cand OP503353</text></g>
<g id="tip-OP503345"><text class="bd" transform="rotate(-6.49) translate(997,11.5)">Cand OP503345</text></g>
<g id="tip-OP503325"><text class="bd" transform="rotate(-2.68) translate(997,11.5)">Cand OP503325</text></g>
<g id="tip-OP503367"><text class="bd" transform="rotate(1.13) translate(997,11.5)">Cand OP503367</text></g>
<g id="tip-AY319465"><text class="bd" transform="rotate(4.94) translate(997,11.5)">Cand AY319465</text></g>
<g id="tip-AY319458"><text class="bd" transform="rotate(8.74) translate(997,11.5)">Cand AY319458</text></g>
<g id="tip-AY319464"><text class="bd" transform="rotate(12.55) translate(997,11.5)">Cand AY319464</text></g>
<g id="tip-AY319449"><text class="bd" transform="rotate(16.36) translate(997,11.5)">Cand AY319449</text></g>
<g id="tip-AY319450"><text class="bd" transform="rotate(20.16) translate(997,11.5)">Cand AY319450</text></g>
<g id="tip-AY319448"><text class="bd" transform="rotate(23.97) translate(997,11.5)">Cand AY319448</text></g>
<g id="tip-MF742175"><text class="bd" transform="rotate(27.78) translate(997,11.5)">Cand MF742175</text></g>
<g id="tip-AF231109"><text class="bd" transform="rotate(31.58) translate(997,11.5)">Cand AF231109</text></g>
<g id="tip-AY319463"><text class="bd" transform="rotate(35.39) translate(997,11.5)">Cand AY319463</text></g>
<g id="tip-AY319468"><text class="bd" transform="rotate(39.2) translate(997,11.5)">Cand AY319468</text></g>
<g id="tip-AY319454"><text class="bd" transform="rotate(43) translate(997,11.5)">Cand AY319454</text></g>
<g id="tip-AY319466"><text class="bd" transform="rotate(46.81) translate(997,11.5)">Cand AY319466</text></g>
<g id="tip-AY319453"><text class="bd" transform="rotate(50.62) translate(997,11.5)">Cand AY319453</text></g>
<g id="tip-OP503334"><text transform="rotate(54.43) translate(997,11.5)">Cxam OP503334</text></g>
<g id="tip-OP503343"><text transform="rotate(58.23) translate(997,11.5)">Cxam OP503343</text></g>
<g id="tip-OP503320"><text transform="rotate(62.04) translate(997,11.5)">Cxam OP503320</text></g>
<g id="tip-OP503326"><text transform="rotate(65.85) translate(997,11.5)">Cxam OP503326</text></g>
<g id="tip-OP503317"><text transform="rotate(69.65) translate(997,11.5)">Cxam OP503317</text></g>
<g id="tip-OP503341"><text transform="rotate(73.46) translate(997,11.5)">Cxam OP503341</text></g>
<g id="tip-OP503314"><text transform="rotate(77.27) translate(997,11.5)">Cxam OP503314</text></g>
<g id="tip-KY610558"><text transform="rotate(81.08) translate(997,11.5)">Cxam KY610558</text></g>
<g id="tip-KY610557"><text transform="rotate(84.88) translate(997,11.5)">Cxam KY610557</text></g>
<g id="tip-MF742149"><text transform="rotate(88.69) translate(997,11.5)">Cxam MF742149</text></g>
<g id="tip-JN700936"><text class="e" transform="rotate(272.5) translate(-997,11.5)">Cxam JN700936</text></g>
<g id="tip-MF742166"><text class="e" transform="rotate(276.3) translate(-997,11.5)">Cxam MF742166</text></g>
<g id="tip-KY610559"><text class="e" transform="rotate(280.11) translate(-997,11.5)">Cxam KY610559</text></g>
<g id="tip-KX904857"><text class="e" transform="rotate(-70.13) translate(-997,11.5)">Vana KX904857</text></g>
<g id="tip-MF742192"><text class="e" transform="rotate(-66.33) translate(-997,11.5)">Csp. MF742192</text></g>
<g id="tip-MF742191"><text class="e" transform="rotate(-62.52) translate(-997,11.5)">Csp. MF742191</text></g>
<g id="tip-MF742190"><text class="e" transform="rotate(-58.71) translate(-997,11.5)">Csp. MF742190</text></g>
<g id="tip-MF742133"><text class="e" transform="rotate(-54.91) translate(-997,11.5)">Csp. MF742133</text></g>
<g id="tip-MF742135"><text class="e" transform="rotate(-51.1) translate(-997,11.5)">Csp. MF742135</text></g>
<g id="tip-MF742189"><text class="e" transform="rotate(-47.29) translate(-997,11.5)">Csp3 MF742189</text></g>
<g id="tip-AY319461"><text class="e" transform="rotate(-43.49) translate(-997,11.5)">Csp3 AY319461</text></g>
<g id="tip-AY319462"><text class="e" transform="rotate(-39.68) translate(-997,11.5)">Csp3 AY319462</text></g>
<g id="tip-MF742162"><text class="e" transform="rotate(-35.87) translate(-997,11.5)">Csp3 MF742162</text></g>
<g id="tip-AY331594"><text class="e" transform="rotate(-32.06) translate(-997,11.5)">Csp3 AY331594</text></g>
<g id="tip-AY331595"><text class="e" transform="rotate(-28.26) translate(-997,11.5)">Csp3 AY331595</text></g>
<g id="tip-AY319452"><text class="e" transform="rotate(-24.45) translate(-997,11.5)">Csp3 AY319452</text></g>
<g id="tip-AY319470"><text class="e" transform="rotate(-20.64) translate(-997,11.5)">Cfro AY319470</text></g>
<g id="tip-AY319469"><text class="e" transform="rotate(-16.84) translate(-997,11.5)">Cfro AY319469</text></g>
<g id="tip-AY319467"><text class="e" transform="rotate(-13.03) translate(-997,11.5)">Cfro AY319467</text></g>
<g id="tip-KY610562"><text class="e" transform="rotate(-9.22) translate(-997,11.5)">Cxam KY610562</text></g>
<g id="tip-KY610561"><text class="e" transform="rotate(-5.42) translate(-997,11.5)">Cxam KY610561</text></g>
<g id="tip-KY610560"><text class="e" transform="rotate(-1.61) translate(-997,11.5)">Cxam KY610560</text></g>
<g id="tip-MW160930"><text class="e" transform="rotate(2.2) translate(-997,11.5)">Ccul MW160930</text></g>
<g id="tip-MW160923"><text class="e" transform="rotate(6.01) translate(-997,11.5)">Ccul MW160923</text></g>
<g id="tip-KF683387"><text class="e" transform="rotate(9.81) translate(-997,11.5)">Ccul KF683387</text></g>
<g id="tip-MF742148"><text class="e" transform="rotate(13.62) translate(-997,11.5)">Csp. MF742148</text></g>
<g id="tip-MF742143"><text class="e" transform="rotate(17.43) translate(-997,11.5)">Csp. MF742143</text></g>
<g id="tip-MF742150"><text class="e" transform="rotate(21.23) translate(-997,11.5)">Csp. MF742150</text></g>
<g id="tip-MF742183"><text class="e" transform="rotate(25.04) translate(-997,11.5)">Csp. MF742183</text></g>
<g id="tip-MF742151"><text class="e" transform="rotate(28.85) translate(-997,11.5)">Csp. MF742151</text></g>
<g id="tip-MF742209"><text class="e" transform="rotate(32.65) translate(-997,11.5)">Csp. MF742209</text></g>
<g id="tip-MF742165"><text class="e" transform="rotate(36.46) translate(-997,11.5)">Csp. MF742165</text></g>
<g id="tip-AY319473"><text class="e" transform="rotate(40.27) translate(-997,11.5)">Corn AY319473</text></g>
<g id="tip-MF742142"><text class="e" transform="rotate(44.08) translate(-997,11.5)">Csp. MF742142</text></g>
<g id="tip-MF742139"><text class="e" transform="rotate(47.88) translate(-997,11.5)">Csp. MF742139</text></g>
<g id="tip-AY319472"><text class="e" transform="rotate(51.69) translate(-997,11.5)">Corn AY319472</text></g>
<g id="tip-MF742141"><text class="e" transform="rotate(55.5) translate(-997,11.5)">Corn MF742141</text></g>
<g id="tip-MF742193"><text class="e" transform="rotate(59.3) translate(-997,11.5)">Corn MF742193</text></g>
<g id="tip-AY319456"><text class="e" transform="rotate(63.11) translate(-997,11.5)">Corn AY319456</text></g>
<g id="tip-MF742179"><text class="e" transform="rotate(66.92) translate(-997,11.5)">Corn MF742179</text></g>
<g id="tip-AY319471"><text class="e" transform="rotate(70.72) translate(-997,11.5)">Csp1 AY319471</text></g>
<g id="tip-AY319459"><text class="e" transform="rotate(74.53) translate(-997,11.5)">Csp2 AY319459</text></g>
<g id="tip-AY319460"><text class="e" transform="rotate(78.34) translate(-997,11.5)">Csp2 AY319460</text></g>
<g id="tip-MF742198"><text class="e" transform="rotate(82.15) translate(-997,11.5)">Csp2 MF742198</text></g>
<g id="tip-MF742199"><text class="e" transform="rotate(85.95) translate(-997,11.5)">Csp2 MF742199</text></g>
<g id="tip-MF742212"><text class="e" transform="rotate(89.76) translate(-997,11.5)">Csp. MF742212</text></g>
<g id="tip-MF742140"><text transform="rotate(-86.43) translate(997,11.5)">Csp. MF742140</text></g>
<g id="tip-MW160931"><text transform="rotate(-82.63) translate(997,11.5)">Cmay MW160931</text></g>
<g id="tip-MW160934"><text transform="rotate(-78.82) translate(997,11.5)">Cmay MW160934</text></g>
<g id="tip-MF742205"><text transform="rotate(-75.01) translate(997,11.5)">Cmay MF742205</text></g>
</g>
</g>
</svg>
